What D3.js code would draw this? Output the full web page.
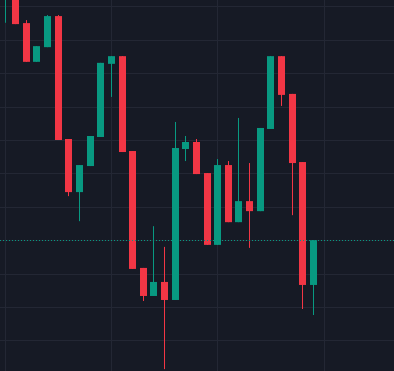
<!DOCTYPE html>
<html>
<head>
<meta charset="utf-8">
<script src="https://cdn.jsdelivr.net/npm/d3@7"></script>
<style>
  html, body { margin: 0; padding: 0; background: #161a25; overflow: hidden; }
</style>
</head>
<body>
<svg id="chart" width="394" height="371"></svg>
<script>
// candle data (price units where one grid step = 10)
const opens  = [112.0, 113.5, 105.0, 93.4, 97.8, 107.1, 70.3, 54.4, 62.2, 70.9,
                92.8, 95.1, 66.7, 31.7, 23.3, 27.5, 22.1, 67.3, 69.4, 60.1,
                38.6, 62.5, 45.4, 51.7, 48.7, 73.3, 95.1, 83.8, 63.4, 26.6];
const highs  = [115.0, 114.0, 105.9, 98.1, 107.4, 107.4, 70.3, 62.5, 71.2, 93.1,
                95.1, 95.1, 66.7, 31.7, 44.2, 38.0, 75.4, 71.2, 70.3, 60.1,
                64.3, 63.7, 76.6, 63.1, 73.6, 95.1, 95.1, 83.8, 63.4, 40.0];
const lows   = [105.1, 104.7, 93.4, 93.4, 97.8, 70.0, 53.2, 45.7, 62.2, 70.9,
                82.9, 66.4, 31.4, 21.8, 23.3, 1.4, 22.1, 63.7, 59.8, 38.6,
                38.6, 45.4, 45.4, 37.7, 48.7, 73.3, 80.2, 47.5, 19.4, 17.6];
const closes = [114.0, 104.7, 93.4, 98.1, 107.1, 70.0, 54.4, 62.5, 71.2, 93.1,
                95.1, 66.4, 31.4, 23.3, 27.5, 22.1, 67.6, 69.4, 59.8, 38.6,
                62.5, 45.4, 51.7, 48.7, 73.6, 95.1, 83.5, 63.1, 26.6, 40.0];
const priceTicks = [10, 20, 30, 40, 50, 60, 70, 80, 90, 100, 110];
const timeTicks = [0, 10, 20, 30];

const W = 394, H = 371;
const UP = '#089981', DOWN = '#f23645';
const candleW = 7;

const svg = d3.select('#chart');

const x = d3.scaleLinear().domain([0, 30]).range([4.6, 323.5]);
const y = d3.scaleLinear().domain([10, 110]).range([340.4, 6.4]);

svg.append('rect').attr('width', W).attr('height', H).attr('fill', '#161a25');

// grid
const grid = svg.append('g').attr('stroke', '#232734').attr('stroke-width', 1);
grid.selectAll('line.h').data(priceTicks).enter().append('line')
    .attr('x1', 0).attr('x2', W)
    .attr('y1', d => Math.round(y(d)) + 0.5)
    .attr('y2', d => Math.round(y(d)) + 0.5);
grid.selectAll('line.v').data(timeTicks).enter().append('line')
    .attr('y1', 0).attr('y2', H)
    .attr('x1', d => Math.round(x(d)) + 0.5)
    .attr('x2', d => Math.round(x(d)) + 0.5);

const data = opens.map((o, i) => ({i, o, h: highs[i], l: lows[i], c: closes[i]}));

const g = svg.append('g')
    .selectAll('g')
    .data(data).enter().append('g')
    .attr('fill', d => d.c >= d.o ? UP : DOWN);

g.append('rect')
    .attr('x', d => Math.round(x(d.i)))
    .attr('width', 1)
    .attr('y', d => y(d.h))
    .attr('height', d => y(d.l) - y(d.h));

g.append('rect')
    .attr('x', d => Math.round(x(d.i)) - 3)
    .attr('width', candleW)
    .attr('y', d => y(Math.max(d.o, d.c)))
    .attr('height', d => Math.max(1, Math.abs(y(d.o) - y(d.c))));

// last price line
const last = closes[closes.length - 1];
svg.append('line')
    .attr('x1', 0).attr('x2', W)
    .attr('y1', Math.round(y(last)) + 0.5)
    .attr('y2', Math.round(y(last)) + 0.5)
    .attr('stroke', UP)
    .attr('stroke-width', 1)
    .attr('stroke-dasharray', '1,2');
</script>
</body>
</html>
